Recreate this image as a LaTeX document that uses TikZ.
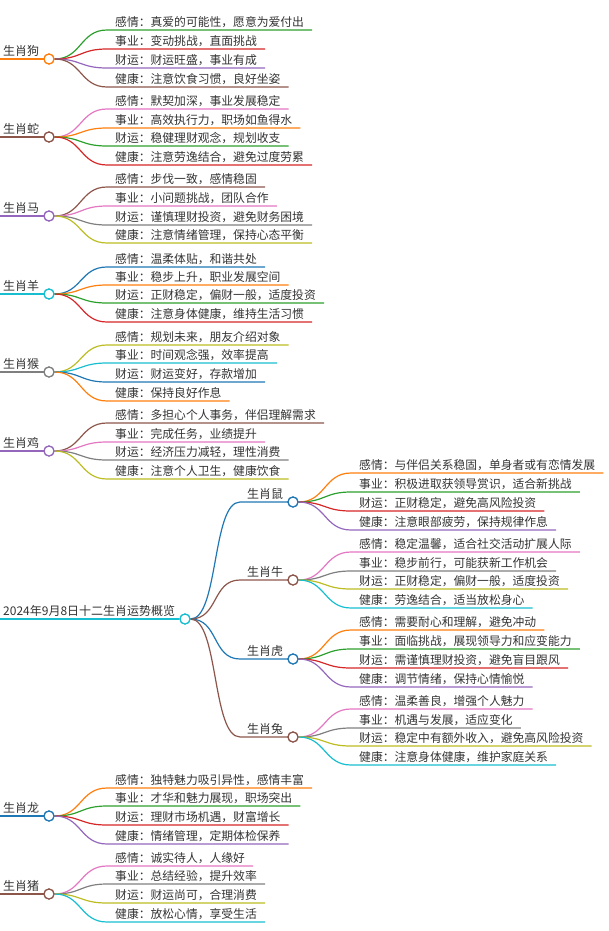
\documentclass[tikz,border=0pt]{standalone}
\usepackage{fontspec}
\setmainfont{Noto Sans CJK SC}
\definecolor{cB}{HTML}{1F77B4}\definecolor{cO}{HTML}{FF7F0E}\definecolor{cG}{HTML}{2CA02C}
\definecolor{cR}{HTML}{D62728}\definecolor{cP}{HTML}{9467BD}\definecolor{cN}{HTML}{8C564B}
\definecolor{cK}{HTML}{E377C2}\definecolor{cY}{HTML}{7F7F7F}\definecolor{cL}{HTML}{BCBD22}
\definecolor{cC}{HTML}{17BECF}\definecolor{txt}{HTML}{333333}
\tikzset{
 link/.style={line width=1.2pt},
 circ/.style={circle,fill=white,line width=1.2pt,minimum size=10pt,inner sep=0pt},
 kid/.style={anchor=south west,inner xsep=8pt,inner ysep=2pt,text=txt,font=\fontsize{11.8pt}{13pt}\selectfont},
 glab/.style={anchor=south east,inner xsep=1pt,inner ysep=2pt,text=txt,font=\fontsize{12pt}{13pt}\selectfont},
}
% #1 id, #2 circle x, #3 y, #4 colour, #5 label, #6 children
\newcommand\grp[6]{%
 \node[circ,draw=#4] (c#1) at (#2,#3) {};
 \node[glab] (l#1) at ([xshift=-3pt]c#1.west) {#5};
 \foreach \cy/\cc/\ct [count=\i] in {#6}{%
  \node[kid] (k#1\i) at (#2+58,\cy) {\ct};
  \draw[link,\cc] (c#1.east) .. controls +(27,0) and +(-27,0) .. (k#1\i.south west) -- (k#1\i.south east);
 }
 \node[circ,draw=#4] at (c#1) {};
}
\begin{document}
\begin{tikzpicture}[x=1pt,y=-1pt]
\useasboundingbox (0,0) rectangle (608,931);
% left groups
\coordinate (e1) at (0,59);\coordinate (e2) at (0,137);\coordinate (e3) at (0,216);\coordinate (e4) at (0,294);
\coordinate (e5) at (0,372);\coordinate (e6) at (0,451);\coordinate (e7) at (0,816);\coordinate (e8) at (0,894);
\draw[link,cO] (e1) -- (49,59);\draw[link,cN] (e2) -- (49,137);\draw[link,cP] (e3) -- (49,216);
\draw[link,cC] (e4) -- (49,294);\draw[link,cY] (e5) -- (49,372);\draw[link,cP] (e6) -- (49,451);
\draw[link,cB] (e7) -- (49,816);\draw[link,cN] (e8) -- (49,894);
\grp{a}{49}{59}{cO}{生肖狗}{30/cG/感情：真爱的可能性，愿意为爱付出,49/cR/事业：变动挑战，直面挑战,68/cP/财运：财运旺盛，事业有成,87/cN/健康：注意饮食习惯，良好坐姿}
\grp{b}{49}{137}{cN}{生肖蛇}{109/cK/感情：默契加深，事业发展稳定,128/cO/事业：高效执行力，职场如鱼得水,146/cG/财运：稳健理财观念，规划收支,165/cR/健康：注意劳逸结合，避免过度劳累}
\grp{c}{49}{216}{cP}{生肖马}{187/cN/感情：步伐一致，感情稳固,206/cK/事业：小问题挑战，团队合作,225/cY/财运：谨慎理财投资，避免财务困境,243/cL/健康：注意情绪管理，保持心态平衡}
\grp{d}{49}{294}{cC}{生肖羊}{267/cB/感情：温柔体贴，和谐共处,285/cO/事业：稳步上升，职业发展空间,303/cG/财运：正财稳定，偏财一般，适度投资,322/cR/健康：注意身体健康，维持生活习惯}
\grp{e}{49}{372}{cY}{生肖猴}{345/cL/感情：规划未来，朋友介绍对象,363/cC/事业：时间观念强，效率提高,382/cB/财运：财运变好，存款增加,401/cO/健康：保持良好作息}
\grp{f}{49}{451}{cP}{生肖鸡}{423/cN/感情：多担心个人事务，伴侣理解需求,442/cK/事业：完成任务，业绩提升,460/cY/财运：经济压力减轻，理性消费,479/cL/健康：注意个人卫生，健康饮食}
\grp{g}{49}{816}{cB}{生肖龙}{788/cO/感情：独特魅力吸引异性，感情丰富,806/cG/事业：才华和魅力展现，职场突出,825/cR/财运：理财市场机遇，财富增长,844/cP/健康：情绪管理，定期体检保养}
\grp{h}{49}{894}{cN}{生肖猪}{866/cK/感情：诚实待人，人缘好,884/cY/事业：总结经验，提升效率,903/cL/财运：财运尚可，合理消费,922/cC/健康：放松心情，享受生活}
% root
\coordinate (e0) at (0,619);
\node[circ,draw=cC] (root) at (185,619) {};
\node[glab] (rt) at ([xshift=-3pt]root.west) {\resizebox{172pt}{!}{2024年9月8日十二生肖运势概览}};
\draw[link,cC] (e0) -- (root.west);
\coordinate (r1) at (240,502);\coordinate (r2) at (240,580);\coordinate (r3) at (240,659);\coordinate (r4) at (240,737);
\draw[link,cB] (root.east) .. controls +(28,0) and +(-28,0) .. (r1) -- (288,502);
\draw[link,cN] (root.east) .. controls +(28,0) and +(-28,0) .. (r2) -- (288,580);
\draw[link,cB] (root.east) .. controls +(28,0) and +(-28,0) .. (r3) -- (288,659);
\draw[link,cN] (root.east) .. controls +(28,0) and +(-28,0) .. (r4) -- (288,737);
\node[circ,draw=cC] at (root) {};
\grp{i}{293}{502}{cB}{生肖鼠}{473/cO/感情：与伴侣关系稳固，单身者或有恋情发展,492/cG/事业：积极进取获领导赏识，适合新挑战,511/cR/财运：正财稳定，避免高风险投资,530/cP/健康：注意眼部疲劳，保持规律作息}
\grp{j}{293}{580}{cN}{生肖牛}{552/cK/感情：稳定温馨，适合社交活动扩展人际,571/cY/事业：稳步前行，可能获新工作机会,589/cL/财运：正财稳定，偏财一般，适度投资,608/cC/健康：劳逸结合，适当放松身心}
\grp{k}{293}{659}{cB}{生肖虎}{630/cO/感情：需要耐心和理解，避免冲动,649/cG/事业：面临挑战，展现领导力和应变能力,668/cR/财运：需谨慎理财投资，避免盲目跟风,687/cP/健康：调节情绪，保持心情愉悦}
\grp{m}{293}{737}{cN}{生肖兔}{709/cK/感情：温柔善良，增强个人魅力,728/cY/事业：机遇与发展，适应变化,746/cL/财运：稳定中有额外收入，避免高风险投资,765/cC/健康：注意身体健康，维护家庭关系}
\end{tikzpicture}
\end{document}
